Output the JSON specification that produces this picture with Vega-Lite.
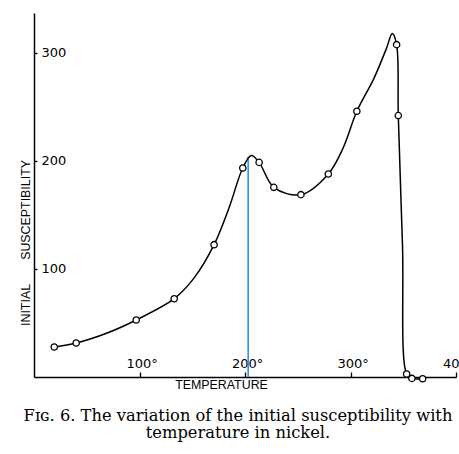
{
  "$schema": "https://vega.github.io/schema/vega-lite/v6.json",
  "width": 422,
  "height": 364,
  "autosize": {"type": "none"},
  "padding": {"left": 34, "top": 13, "right": 3, "bottom": 77},
  "background": "white",
  "config": {
    "view": {"stroke": null},
    "axis": {
      "grid": false,
      "domainColor": "black",
      "domainWidth": 1.5,
      "tickColor": "black",
      "tickWidth": 1.3,
      "labelColor": "black",
      "titleColor": "black",
      "labelFont": "DejaVu Sans",
      "labelFontSize": 13,
      "titleFont": "Liberation Sans",
      "titleFontSize": 12.4,
      "titleFontWeight": "normal"
    }
  },
  "title": {
    "text": ["Fɪɢ. 6. The variation of the initial susceptibility with", "temperature in nickel."],
    "orient": "bottom",
    "anchor": "middle",
    "font": "DejaVu Serif",
    "fontSize": 16.3,
    "fontWeight": "normal",
    "color": "black",
    "lineHeight": 17.5,
    "offset": 17,
    "dx": -7
  },
  "datasets": {
    "curve": [
      {"T": 19.2, "S": 27.8},
      {"T": 40, "S": 31.5},
      {"T": 70, "S": 41},
      {"T": 96.9, "S": 52.8},
      {"T": 132.9, "S": 72.5},
      {"T": 152, "S": 92},
      {"T": 170.7, "S": 122.5},
      {"T": 185, "S": 157},
      {"T": 197.9, "S": 193.5},
      {"T": 206, "S": 205},
      {"T": 213.4, "S": 198.7},
      {"T": 227.3, "S": 175.6},
      {"T": 253, "S": 168.8},
      {"T": 279, "S": 188},
      {"T": 293, "S": 212},
      {"T": 306, "S": 246},
      {"T": 322, "S": 276},
      {"T": 334, "S": 304},
      {"T": 339.6, "S": 318},
      {"T": 343.7, "S": 307.7},
      {"T": 345.3, "S": 242},
      {"T": 349.3, "S": 121.6},
      {"T": 353.2, "S": 2.8},
      {"T": 358.2, "S": -1.3},
      {"T": 368.4, "S": -1.6}
    ],
    "obs": [
      {"T": 19.2, "S": 27.8},
      {"T": 40, "S": 31.5},
      {"T": 96.9, "S": 52.8},
      {"T": 132.9, "S": 72.5},
      {"T": 170.7, "S": 122.5},
      {"T": 197.9, "S": 193.5},
      {"T": 213.4, "S": 198.7},
      {"T": 227.3, "S": 175.6},
      {"T": 253, "S": 168.8},
      {"T": 279, "S": 188},
      {"T": 306, "S": 246},
      {"T": 343.7, "S": 307.7},
      {"T": 345.3, "S": 242},
      {"T": 353.2, "S": 2.8},
      {"T": 358.2, "S": -1.3},
      {"T": 368.4, "S": -1.6}
    ],
    "peak": [
      {"T": 203, "S": 0, "S2": 204}
    ]
  },
  "encoding": {
    "x": {
      "field": "T",
      "type": "quantitative",
      "scale": {"domain": [0, 400], "nice": false, "zero": false},
      "axis": {
        "title": "TEMPERATURE",
        "values": [100, 200, 300, 400],
        "labelExpr": "datum.value == 400 ? '40' : datum.value + '°'",
        "labelAlign": "left",
        "labelBaseline": "alphabetic",
        "labelOffset": -13.5,
        "labelPadding": -4.5,
        "tickSize": -5,
        "labelFlush": false,
        "labelOverlap": false,
        "titleX": 187,
        "titleY": 11.5,
        "titleAlign": "center",
        "titleBaseline": "alphabetic"
      }
    },
    "y": {
      "field": "S",
      "type": "quantitative",
      "scale": {"domain": [0, 337], "nice": false, "zero": false},
      "axis": {
        "title": "INITIAL\u00a0\u00a0\u00a0\u00a0\u00a0\u00a0\u00a0SUSCEPTIBILITY",
        "values": [100, 200, 300],
        "labelAlign": "left",
        "labelBaseline": "middle",
        "tickSize": -3,
        "labelPadding": -4,
        "labelFlush": false,
        "labelOverlap": false,
        "titleX": -8.5,
        "titleY": 229.5,
        "titleAngle": 270,
        "titleAlign": "center",
        "titleBaseline": "middle"
      }
    }
  },
  "layer": [
    {
      "data": {"name": "peak"},
      "mark": {"type": "rule", "color": "#1e8fe6", "strokeWidth": 1.5},
      "encoding": {"y2": {"field": "S2"}}
    },
    {
      "data": {"name": "curve"},
      "mark": {"type": "line", "interpolate": "catmull-rom", "color": "black", "strokeWidth": 1.5}
    },
    {
      "data": {"name": "obs"},
      "mark": {"type": "point", "shape": "circle", "filled": false, "fill": "white", "fillOpacity": 1, "stroke": "black", "strokeWidth": 1.3, "size": 40, "opacity": 1}
    }
  ]
}
